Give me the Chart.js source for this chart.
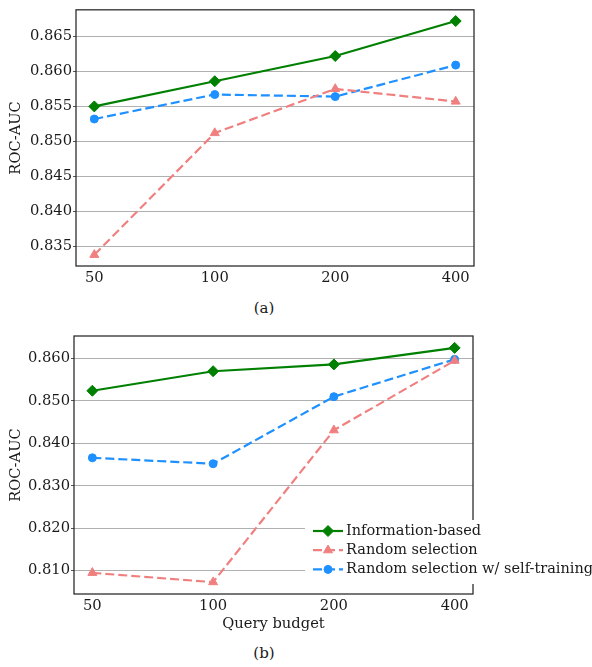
<!DOCTYPE html>
<html>
<head>
<meta charset="utf-8">
<script src="https://cdn.jsdelivr.net/npm/chart.js@4/dist/chart.umd.min.js"></script>
<style>
  body { margin: 0; background: #fff; }
  #wrap { position: relative; width: 592px; height: 667px; font-family: 'DejaVu Serif', serif; }
  .box { position: absolute; left: 0; width: 592px; }
  .cap { position: absolute; left: 0; width: 528px; text-align: center; font-size: 15px; line-height: 20px; color: #1a1a1a; }
</style>
</head>
<body>
<div id="wrap">
  <div class="box" style="top:0;height:290px"><canvas id="chartA" width="592" height="290"></canvas></div>
  <div class="cap" style="top:298px">(a)</div>
  <div class="box" style="top:320px;height:320px"><canvas id="chartB" width="592" height="320"></canvas></div>
  <div class="cap" style="top:643px">(b)</div>
</div>
<script>
// query budgets on the x axis
const budgets = ['50', '100', '200', '400'];

// panel (a)
const aInfo = [0.8550, 0.8586, 0.8622, 0.8672];
const aRandom = [0.8338, 0.8512, 0.8575, 0.8557];
const aSelf = [0.8532, 0.8567, 0.8564, 0.8609];
const aTicks = [0.835, 0.840, 0.845, 0.850, 0.855, 0.860, 0.865];

// panel (b)
const bInfo = [0.8524, 0.8570, 0.8586, 0.8625];
const bRandom = [0.8095, 0.8073, 0.8431, 0.8595];
const bSelf = [0.8366, 0.8352, 0.8510, 0.8598];
const bTicks = [0.810, 0.820, 0.830, 0.840, 0.850, 0.860];

const labels = ['Information-based', 'Random selection', 'Random selection w/ self-training'];

const FONT = "'DejaVu Serif', serif";
const INK = '#1a1a1a';

function series(info, random, self) {
    const pts = vals => vals.map((v, i) => ({ x: i, y: v }));
    return [
        {
            label: labels[0], data: pts(info),
            borderColor: '#008000', backgroundColor: '#008000',
            borderWidth: 2.2, pointStyle: 'rectRot', pointRadius: 5.5, pointBorderWidth: 1
        },
        {
            label: labels[1], data: pts(random),
            borderColor: '#f08080', backgroundColor: '#f08080',
            borderWidth: 2.2, borderDash: [9, 4], pointStyle: 'triangle', pointRadius: 5.2, pointBorderWidth: 1
        },
        {
            label: labels[2], data: pts(self),
            borderColor: '#1e90ff', backgroundColor: '#1e90ff',
            borderWidth: 2.2, borderDash: [9, 4], pointStyle: 'circle', pointRadius: 4, pointBorderWidth: 1
        }
    ];
}

// box around the plot area, drawn over the lines like matplotlib spines
const frame = {
    id: 'frame',
    afterDatasetsDraw(chart) {
        const { ctx, chartArea: a } = chart;
        ctx.save();
        ctx.strokeStyle = '#262626';
        ctx.lineWidth = 1.25;
        ctx.strokeRect(a.left, a.top, a.right - a.left, a.bottom - a.top);
        ctx.restore();
    }
};

// legend sitting over the lower right corner of panel (b)
const insideLegend = {
    id: 'insideLegend',
    afterDraw(chart) {
        const ctx = chart.ctx;
        ctx.save();
        ctx.fillStyle = '#fff';
        ctx.fillRect(305, 200, 287, 64);
        chart.data.datasets.forEach((ds, i) => {
            const y = 211 + i * 19.2;
            ctx.strokeStyle = ds.borderColor;
            ctx.fillStyle = ds.backgroundColor;
            ctx.lineWidth = ds.borderWidth;
            ctx.setLineDash(ds.borderDash || []);
            ctx.beginPath();
            ctx.moveTo(313, y);
            ctx.lineTo(343, y);
            ctx.stroke();
            ctx.setLineDash([]);
            ctx.lineWidth = 1;
            Chart.helpers.drawPoint(ctx, { pointStyle: ds.pointStyle, radius: ds.pointRadius, borderWidth: 1, rotation: 0 }, 328, y);
            ctx.fillStyle = INK;
            ctx.font = '14.5px ' + FONT;
            ctx.textBaseline = 'middle';
            ctx.textAlign = 'left';
            ctx.fillText(ds.label, 346, y);
        });
        ctx.restore();
    }
};

function makeChart(id, datasets, yMin, yMax, yTicks, opts) {
    return new Chart(document.getElementById(id), {
        type: 'line',
        data: { datasets: datasets },
        options: {
            responsive: false,
            animation: false,
            layout: { padding: { top: opts.top, right: opts.right, left: 0, bottom: 0 } },
            plugins: { legend: { display: false }, tooltip: { enabled: false } },
            scales: {
                x: {
                    type: 'linear',
                    min: -0.152,
                    max: 3.152,
                    afterBuildTicks: s => { s.ticks = budgets.map((b, i) => ({ value: i })); },
                    afterFit: s => { s.height = opts.xHeight; },
                    grid: { display: false, drawTicks: false },
                    border: { display: false },
                    ticks: {
                        padding: 3,
                        color: INK,
                        font: { family: FONT, size: 14.7 },
                        callback: v => budgets[v]
                    },
                    title: {
                        display: !!opts.xTitle,
                        text: opts.xTitle || '',
                        color: INK,
                        font: { family: FONT, size: 14.7 },
                        padding: { top: 0, bottom: 7 }
                    }
                },
                y: {
                    min: yMin,
                    max: yMax,
                    afterBuildTicks: s => { s.ticks = yTicks.map(v => ({ value: v })); },
                    afterFit: s => { s.width = opts.yWidth; },
                    grid: { color: '#b0b0b0', lineWidth: 1, tickLength: 3, tickColor: '#555' },
                    border: { display: false },
                    ticks: {
                        padding: 1,
                        color: INK,
                        font: { family: FONT, size: 14.7 },
                        callback: v => v.toFixed(3)
                    },
                    title: {
                        display: true,
                        text: 'ROC-AUC',
                        color: INK,
                        font: { family: FONT, size: 14.7 },
                        padding: { top: 7, bottom: 0 }
                    }
                }
            }
        },
        plugins: opts.legend ? [frame, insideLegend] : [frame]
    });
}

makeChart('chartA', series(aInfo, aRandom, aSelf), 0.8322, 0.8688, aTicks,
    { top: 9, right: 118, yWidth: 76, xHeight: 24 });
makeChart('chartB', series(bInfo, bRandom, bSelf), 0.8045, 0.8653, bTicks,
    { top: 16, right: 119, yWidth: 74, xHeight: 46, xTitle: 'Query budget', legend: true });
</script>
</body>
</html>
